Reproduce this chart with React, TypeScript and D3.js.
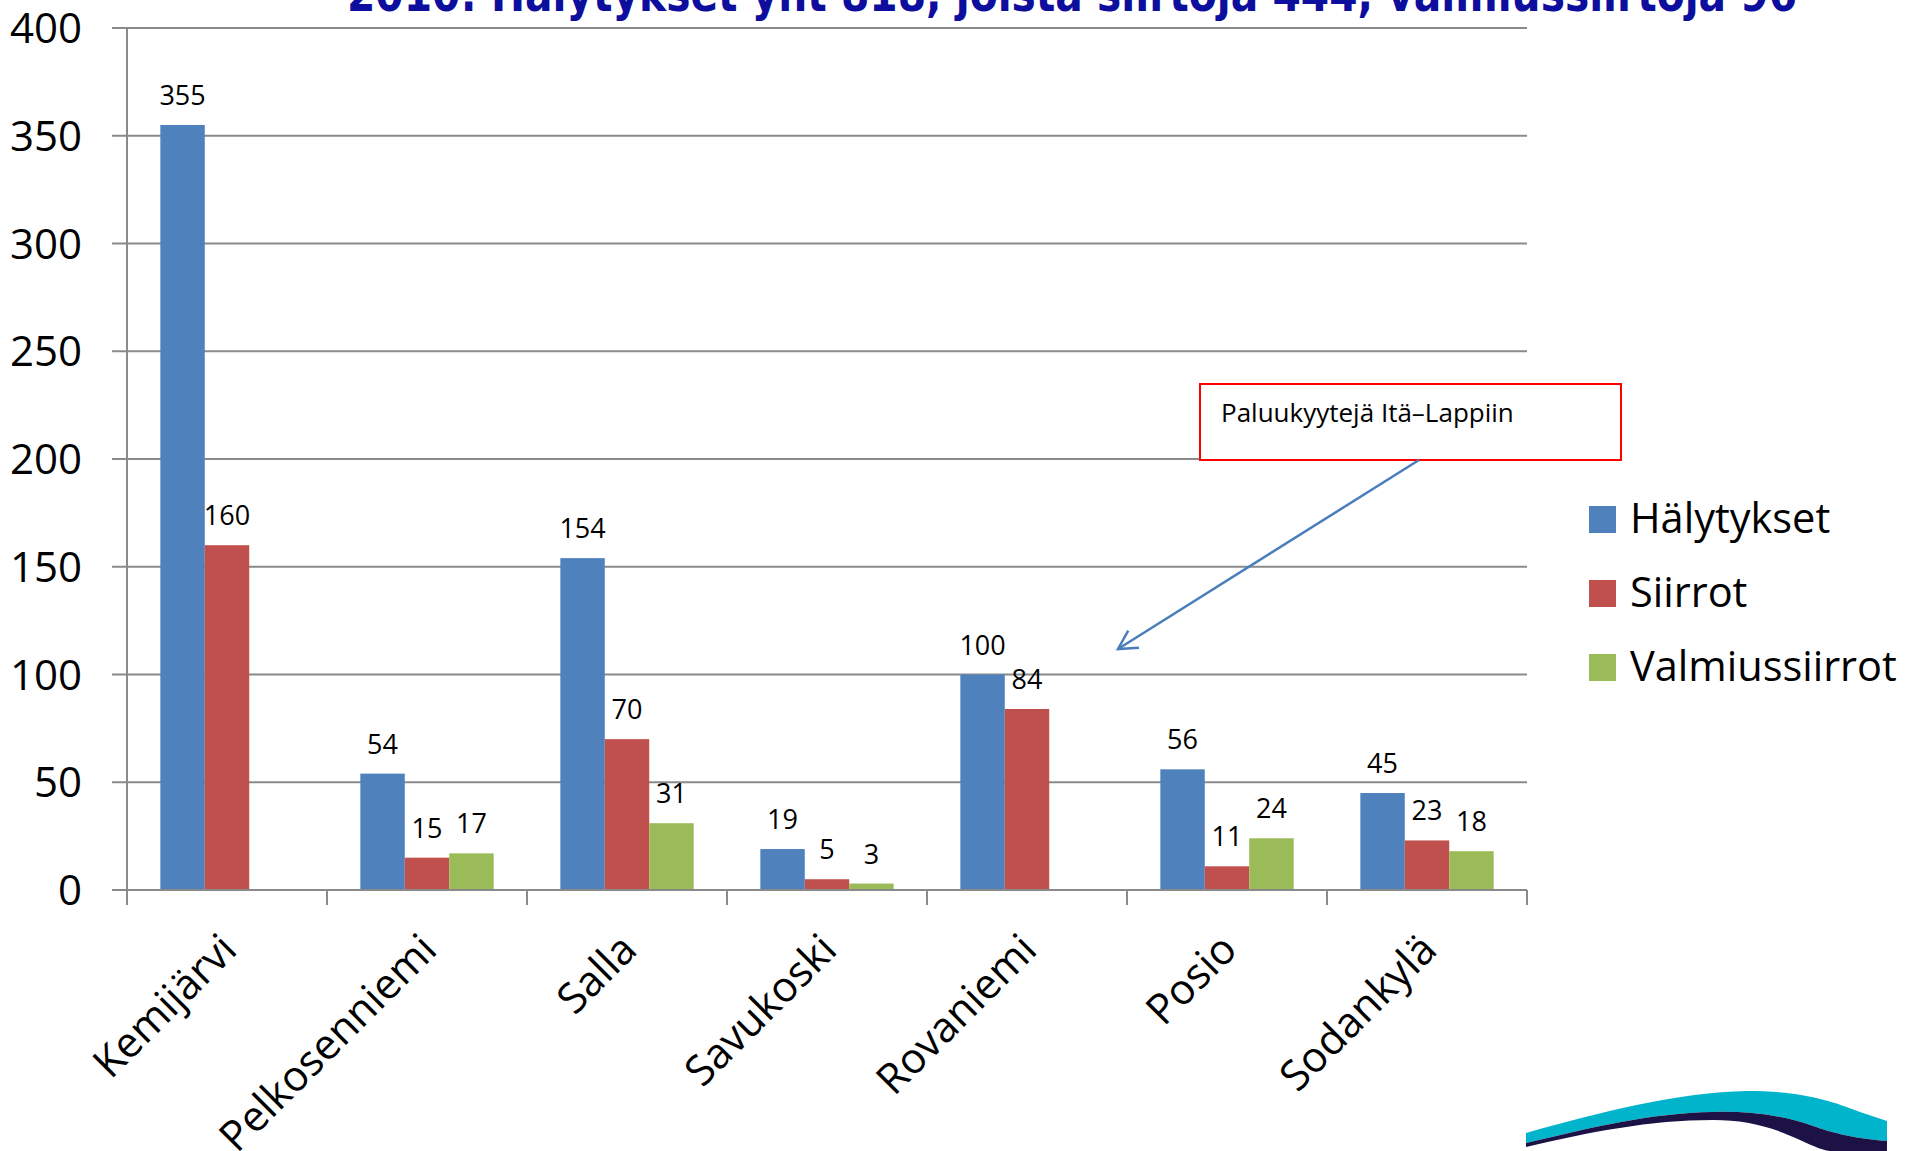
import React from "react";
import * as d3 from "d3";

const categories = ["Kemijärvi", "Pelkosenniemi", "Salla", "Savukoski", "Rovaniemi", "Posio", "Sodankylä"];
const seriesNames = ["Hälytykset", "Siirrot", "Valmiussiirrot"];
const halytykset = [355, 54, 154, 19, 100, 56, 45];
const siirrot = [160, 15, 70, 5, 84, 11, 23];
const valmiussiirrot: (number | null)[] = [null, 17, 31, 3, null, 24, 18];
const yTicks = [0, 50, 100, 150, 200, 250, 300, 350, 400];
const colors = ["#4f81bd", "#c0504d", "#9bbb59"];
const titleText = "2010: Hälytykset yht 818, joista siirtoja 444, valmiussiirtoja 96";
const annotationText = "Paluukyytejä Itä–Lappiin";

const W = 1907;
const H = 1151;
const FONT = "'Open Sans', 'Noto Sans', sans-serif";

export default function App() {
  const plotLeft = 127;
  const plotRight = 1527;
  const plotTop = 28;
  const plotBottom = 890;
  const x0 = d3.scaleBand<string>().domain(categories).range([plotLeft, plotRight]).padding(0);
  const gap = 1.5;
  const step = x0.bandwidth();
  const barW = step / (seriesNames.length + gap);
  const x1 = d3
    .scaleBand<string>()
    .domain(seriesNames)
    .range([(gap / 2) * barW, step - (gap / 2) * barW])
    .padding(0);
  const y = d3.scaleLinear().domain([0, 400]).range([plotBottom, plotTop]);
  const data = [halytykset, siirrot, valmiussiirrot];

  const arrowStart = { x: 1419, y: 460 };
  const arrowEnd = { x: 1118, y: 649 };
  const ang = Math.atan2(arrowStart.y - arrowEnd.y, arrowStart.x - arrowEnd.x);
  const armLen = 21;
  const armA = 0.5;
  const arm1 = { x: arrowEnd.x + armLen * Math.cos(ang + armA), y: arrowEnd.y + armLen * Math.sin(ang + armA) };
  const arm2 = { x: arrowEnd.x + armLen * Math.cos(ang - armA), y: arrowEnd.y + armLen * Math.sin(ang - armA) };

  const boundaries = d3.range(categories.length + 1).map((i) => plotLeft + i * step);

  return (
    <svg
      width={W}
      height={H}
      style={{ position: "absolute", left: 0, top: 0, background: "#fff" }}
      fontFamily={FONT}
    >
      <rect x={0} y={0} width={W} height={H} fill="#fff" />
      {/* title (clipped at top) */}
      <text
        x={347}
        y={11}
        fontFamily="'DejaVu Sans', Verdana, sans-serif"
        fontWeight="bold"
        fontSize={50}
        fill="#0d0d9e"
        textLength={1450}
        lengthAdjust="spacingAndGlyphs"
      >
        {titleText}
      </text>

      {/* gridlines */}
      {yTicks.map((t) => (
        <line key={t} x1={plotLeft - 15} x2={plotRight} y1={y(t)} y2={y(t)} stroke="#8a8a8a" strokeWidth={2} />
      ))}
      {/* y axis */}
      <line x1={plotLeft} x2={plotLeft} y1={plotTop} y2={plotBottom + 15} stroke="#8a8a8a" strokeWidth={2} />
      {/* x ticks */}
      {boundaries.map((b, i) => (
        <line key={i} x1={b} x2={b} y1={plotBottom} y2={plotBottom + 15} stroke="#8a8a8a" strokeWidth={2} />
      ))}
      {/* y tick labels */}
      {yTicks.map((t) => (
        <text key={t} x={82} y={y(t) + 15} textAnchor="end" fontSize={42} fill="#000">
          {t}
        </text>
      ))}

      {/* bars */}
      {categories.map((c, ci) =>
        seriesNames.map((s, si) => {
          const v = data[si][ci];
          if (v == null) return null;
          const bx = (x0(c) as number) + (x1(s) as number);
          return (
            <g key={c + s}>
              <rect x={bx} y={y(v)} width={x1.bandwidth()} height={y(0) - y(v)} fill={colors[si]} />
              <text x={bx + x1.bandwidth() / 2} y={y(v) - 20} textAnchor="middle" fontSize={27} fill="#000">
                {v}
              </text>
            </g>
          );
        })
      )}
      {/* axis baseline over bars */}
      <line x1={plotLeft - 15} x2={plotRight} y1={plotBottom} y2={plotBottom} stroke="#8a8a8a" strokeWidth={2} />

      {/* x labels */}
      {categories.map((c) => {
        const cx = (x0(c) as number) + step / 2 + 12;
        const cy = 952;
        return (
          <text key={c} x={cx} y={cy} textAnchor="end" fontSize={42} transform={`rotate(-45 ${cx} ${cy})`} fill="#000">
            {c}
          </text>
        );
      })}

      {/* annotation */}
      <rect x={1200} y={384} width={421} height={76} fill="#fff" stroke="#ff0000" strokeWidth={2} />
      <text x={1221} y={422} fontSize={26} fill="#000">
        {annotationText}
      </text>
      <line x1={arrowStart.x} y1={arrowStart.y} x2={arrowEnd.x} y2={arrowEnd.y} stroke="#4a7ebb" strokeWidth={2.5} />
      <path
        d={`M${arm1.x},${arm1.y} L${arrowEnd.x},${arrowEnd.y} L${arm2.x},${arm2.y}`}
        fill="none"
        stroke="#4a7ebb"
        strokeWidth={2.5}
      />

      {/* legend */}
      {seriesNames.map((s, i) => {
        const ly = 506 + i * 74;
        return (
          <g key={s}>
            <rect x={1589} y={ly} width={27} height={27} fill={colors[i]} />
            <text x={1630} y={ly + 27} fontSize={41.5} fill="#000">
              {s}
            </text>
          </g>
        );
      })}

      {/* logo swoosh */}
      <path
        d="M1526,1133 C1600,1112 1680,1092 1747,1091 C1800,1091 1830,1100 1860,1112 L1887,1121 L1887,1141 C1850,1138 1830,1132 1813,1126 C1780,1114 1745,1111 1713,1112 C1650,1113 1590,1128 1526,1143 Z"
        fill="#00b4cc"
      />
      <path
        d="M1526,1143 C1590,1128 1650,1113 1713,1112 C1745,1111 1780,1114 1813,1126 C1830,1132 1850,1138 1887,1141 L1887,1151 L1526,1151 Z"
        fill="#1c1245"
      />
      <path
        d="M1526,1147 C1590,1132 1650,1120 1713,1120 C1745,1120 1770,1126 1800,1140 C1815,1147 1825,1151 1830,1151 L1526,1151 Z"
        fill="#fff"
      />
    </svg>
  );
}
